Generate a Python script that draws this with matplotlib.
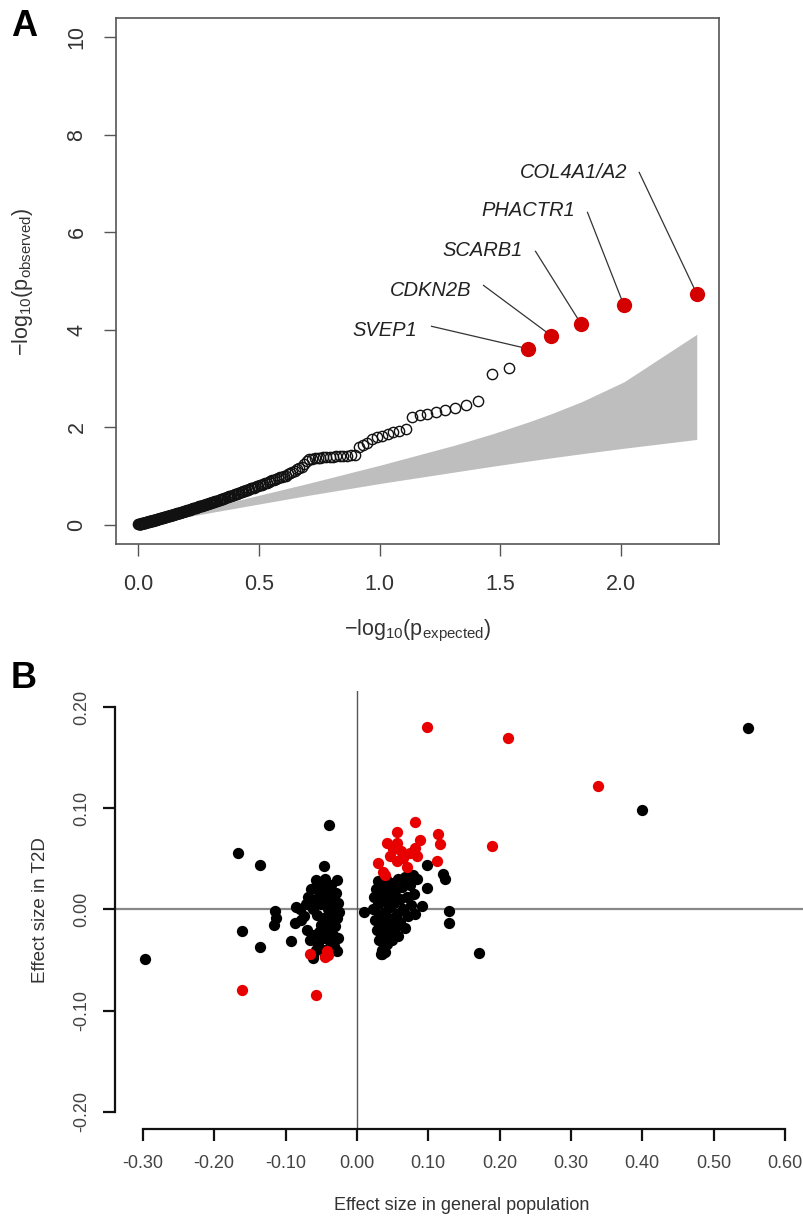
import numpy as np
import matplotlib
matplotlib.use('Agg')
import matplotlib.pyplot as plt

plt.rcParams['font.family'] = ['Liberation Sans', 'DejaVu Sans']
plt.rcParams['mathtext.default'] = 'regular'

# ---------------- Panel A data (QQ plot) ----------------
# observed -log10(p), sorted descending
qq_observed = [4.74, 4.50, 4.11, 3.88, 3.61, 3.22, 3.10, 2.53, 2.46, 2.40,
               2.35, 2.31, 2.27, 2.24, 2.21, 1.97, 1.93, 1.89, 1.86, 1.82,
               1.79, 1.76, 1.68, 1.64, 1.60, 1.43, 1.42, 1.41, 1.41, 1.40,
               1.40, 1.39, 1.39, 1.38, 1.38, 1.37, 1.37, 1.36, 1.35, 1.34,
               1.30, 1.24, 1.19, 1.16, 1.13, 1.10, 1.08, 1.05, 1.03, 1.00,
               0.99, 0.98, 0.97, 0.95, 0.94, 0.92, 0.91, 0.89, 0.88, 0.86,
               0.85, 0.84, 0.82, 0.81, 0.80, 0.79, 0.77, 0.76, 0.75, 0.74,
               0.73, 0.71, 0.70, 0.69, 0.68, 0.67, 0.66, 0.65, 0.64, 0.63,
               0.62, 0.61, 0.60, 0.59, 0.585, 0.58, 0.57, 0.56, 0.55, 0.54,
               0.53, 0.525, 0.52, 0.51, 0.50, 0.49, 0.486, 0.48, 0.47, 0.46,
               0.457, 0.45, 0.44, 0.435, 0.43, 0.42, 0.415, 0.41, 0.40, 0.396,
               0.39, 0.38, 0.376, 0.37, 0.36, 0.358, 0.35, 0.346, 0.34, 0.334,
               0.329, 0.32, 0.318, 0.31, 0.307, 0.30, 0.296, 0.29, 0.286, 0.28,
               0.276, 0.27, 0.265, 0.26, 0.256, 0.25, 0.246, 0.24, 0.236, 0.23,
               0.227, 0.22, 0.218, 0.21, 0.209, 0.20, 0.200, 0.196, 0.19, 0.187,
               0.18, 0.179, 0.175, 0.17, 0.167, 0.16, 0.159, 0.155, 0.151, 0.147,
               0.143, 0.139, 0.135, 0.132, 0.128, 0.124, 0.121, 0.117, 0.113, 0.110,
               0.106, 0.102, 0.099, 0.096, 0.092, 0.089, 0.085, 0.082, 0.079, 0.075,
               0.072, 0.069, 0.065, 0.062, 0.059, 0.056, 0.053, 0.050, 0.047, 0.044,
               0.041, 0.037, 0.034, 0.031, 0.028, 0.025, 0.022, 0.020, 0.017, 0.014,
               0.011, 0.008, 0.006, 0.003]
top_genes = ['COL4A1/A2', 'PHACTR1', 'SCARB1', 'CDKN2B', 'SVEP1']

# 95% confidence band
band_x = [0.0, 0.108, 0.233, 0.409, 0.710, 1.011, 1.312, 1.467, 1.613, 1.710, 1.835, 2.011, 2.312]
band_hi = [0.0, 0.140, 0.286, 0.490, 0.851, 1.23, 1.631, 1.862, 2.101, 2.274, 2.52, 2.93, 3.906]
band_lo = [0.0, 0.077, 0.185, 0.340, 0.603, 0.85, 1.079, 1.196, 1.301, 1.369, 1.453, 1.566, 1.747]

qa_xticks = [0.0, 0.5, 1.0, 1.5, 2.0]
qa_xlabels = ['0.0', '0.5', '1.0', '1.5', '2.0']
qa_yticks = [0, 2, 4, 6, 8, 10]
qa_ylabels = ['0', '2', '4', '6', '8', '10']

# ---------------- Panel B data (effect sizes) ----------------
black_x = [-0.297, -0.167, -0.136, -0.161, -0.136, -0.115, -0.116, -0.114, -0.093, -0.085,
           -0.087, -0.039, -0.046, -0.057, -0.028, -0.062, -0.028, 0.010, 0.035, 0.098,
           0.084, 0.098, 0.120, 0.123, 0.091, 0.129, 0.129, 0.171, 0.400, 0.548,
           # left cluster
           -0.080, -0.078, -0.072, -0.070, -0.068, -0.066, -0.064, -0.062, -0.060, -0.058,
           -0.056, -0.055, -0.054, -0.052, -0.050, -0.050, -0.048, -0.047, -0.046, -0.045,
           -0.044, -0.043, -0.042, -0.041, -0.040, -0.039, -0.038, -0.037, -0.036, -0.035,
           -0.034, -0.033, -0.032, -0.031, -0.030, -0.029, -0.028, -0.027, -0.026, -0.025,
           -0.062, -0.058, -0.074, -0.066, -0.053, -0.045,
           # right cluster
           0.022, 0.024, 0.025, 0.027, 0.028, 0.030, 0.031, 0.032, 0.033, 0.034,
           0.035, 0.036, 0.037, 0.038, 0.039, 0.040, 0.041, 0.042, 0.043, 0.044,
           0.045, 0.046, 0.047, 0.048, 0.049, 0.050, 0.051, 0.052, 0.053, 0.054,
           0.056, 0.057, 0.058, 0.060, 0.061, 0.063, 0.065, 0.067, 0.068, 0.070,
           0.072, 0.074, 0.076, 0.078, 0.080, 0.082, 0.029, 0.034, 0.040]
black_y = [-0.049, 0.056, 0.044, -0.021, -0.037, -0.001, -0.015, -0.008, -0.031, 0.002,
           -0.013, 0.083, 0.043, 0.029, 0.029, -0.048, -0.041, -0.002, -0.044, 0.044,
           0.030, 0.021, 0.035, 0.030, 0.003, -0.001, -0.013, -0.043, 0.098, 0.179,
           0.000, -0.010, 0.005, -0.020, 0.012, -0.030, 0.020, 0.000, -0.025, 0.010,
           -0.005, 0.025, -0.035, 0.015, -0.015, 0.005, -0.028, 0.020, -0.008, 0.030,
           -0.040, 0.010, -0.020, 0.000, 0.018, -0.030, 0.008, -0.012, 0.024, -0.004,
           -0.025, 0.012, -0.036, 0.003, -0.016, 0.016, -0.008, -0.028, 0.006, -0.002,
           -0.045, -0.040, -0.006, 0.004, -0.022, -0.046,
           0.000, 0.012, -0.010, 0.020, -0.020, 0.005, -0.030, 0.015, -0.005, 0.025,
           -0.040, -0.015, 0.008, -0.025, 0.018, -0.002, 0.030, -0.034, 0.010, -0.012,
           0.022, -0.022, 0.002, 0.014, -0.030, 0.026, -0.008, 0.006, -0.018, 0.018,
           -0.004, 0.030, -0.026, 0.010, -0.012, 0.022, 0.000, -0.018, 0.032, 0.012,
           -0.006, 0.024, 0.004, 0.034, 0.015, -0.004, 0.028, -0.044, -0.042]
red_x = [0.098, 0.212, 0.338, 0.189, 0.081, 0.056, 0.114, 0.117, 0.042, 0.056,
         0.088, 0.081, 0.074, 0.065, 0.056, 0.046, 0.084, 0.029, 0.112, 0.070,
         0.037, 0.039, 0.062, 0.050, -0.066, -0.042, -0.041, -0.044, -0.161, -0.058]
red_y = [0.180, 0.169, 0.122, 0.063, 0.086, 0.077, 0.075, 0.065, 0.066, 0.066,
         0.069, 0.061, 0.056, 0.051, 0.048, 0.053, 0.053, 0.046, 0.048, 0.042,
         0.037, 0.034, 0.058, 0.060, -0.044, -0.041, -0.045, -0.047, -0.080, -0.084]

qb_xticks = [-0.30, -0.20, -0.10, 0.00, 0.10, 0.20, 0.30, 0.40, 0.50, 0.60]
qb_yticks = [-0.20, -0.10, 0.00, 0.10, 0.20]

# ---------------- Figure ----------------
W, H = 804, 1218
fig = plt.figure(figsize=(W / 100, H / 100), dpi=100)


def fx(px):
    return px / W


def fy(py):
    return 1 - py / H


RED_A = '#d40000'
RED_B = '#e80000'
TXT = '#333333'

# ---- Panel A ----
axA = fig.add_axes([fx(116), fy(544), fx(719 - 116), (544 - 18) / H])
n = len(qq_observed)
expected = -np.log10(np.arange(1, n + 1) / (n + 1))
obs = np.array(qq_observed)
ntop = len(top_genes)

axA.fill_between(band_x, band_lo, band_hi, color='#bebebe', lw=0, zorder=1)
axA.plot(expected[ntop:], obs[ntop:], 'o', mfc='none', mec='#111111', ms=7.4, mew=1.0, zorder=3)

label_pos = [(2.025, 7.23), (1.81, 6.45), (1.591, 5.63), (1.380, 4.80), (1.157, 3.98)]
line_start = [(2.074, 7.23), (1.86, 6.41), (1.645, 5.61), (1.43, 4.91), (1.215, 4.07)]
for k, g in enumerate(top_genes):
    tx, ty = label_pos[k]
    axA.text(tx, ty, g, ha='right', va='center', fontsize=14.5, fontstyle='italic', color='#222222')
    sx, sy = line_start[k]
    axA.plot([sx, expected[k]], [sy, obs[k]], color='#333333', lw=0.9, zorder=2)
axA.plot(expected[:ntop], obs[:ntop], 'o', color=RED_A, ms=11, mew=0, zorder=4)

axA.set_xlim(-0.090, 2.404)
axA.set_ylim(-0.4, 10.4)
for s in axA.spines.values():
    s.set_color('#555555')
    s.set_linewidth(1.2)
axA.set_xticks(qa_xticks)
axA.set_xticklabels(qa_xlabels)
axA.set_yticks(qa_yticks)
axA.set_yticklabels(qa_ylabels, rotation=90, va='center')
axA.tick_params(axis='both', direction='out', length=8.5, width=1.0, color='#555555',
                labelsize=15.5, labelcolor=TXT)
axA.tick_params(axis='x', pad=13)
axA.tick_params(axis='y', pad=12)

fig.text(fx(23), fy(282), r'$-$log$_{10}$(p$_{observed}$)', rotation=90, ha='center', va='center',
         fontsize=15.5, color=TXT)
fig.text(fx(418), fy(631), r'$-$log$_{10}$(p$_{expected}$)', ha='center', va='center',
         fontsize=15.5, color=TXT)
fig.text(fx(11), fy(36), 'A', fontsize=26, fontweight='bold', ha='left', va='baseline')

# ---- Panel B ----
axB = fig.add_axes([fx(115), fy(1129), fx(804 - 115), (1129 - 691) / H])
axB.axhline(0, color='#888888', lw=1.6, zorder=1)
axB.axvline(0, color='#555555', lw=1.0, zorder=1)
axB.scatter(black_x, black_y, s=66, color='black', lw=0, zorder=3)
axB.scatter(red_x, red_y, s=66, color=RED_B, lw=0, zorder=4)

axB.set_xlim(-0.339, 0.6266)
axB.set_ylim(-0.2168, 0.2158)
axB.spines['top'].set_visible(False)
axB.spines['right'].set_visible(False)
axB.spines['left'].set_bounds(-0.2, 0.2)
axB.spines['bottom'].set_bounds(-0.3, 0.6)
for side in ('left', 'bottom'):
    axB.spines[side].set_linewidth(1.6)
    axB.spines[side].set_color('#111111')
axB.set_xticks(qb_xticks)
axB.set_xticklabels([f'{v:.2f}' for v in qb_xticks])
axB.set_yticks(qb_yticks)
axB.set_yticklabels([f'{v:.2f}' for v in qb_yticks], rotation=90, va='center')
axB.tick_params(axis='both', direction='out', length=8.5, width=1.6, color='#111111',
                labelsize=13, labelcolor='#444444')
axB.tick_params(axis='x', pad=10)
axB.tick_params(axis='y', pad=9)

fig.text(fx(41), fy(910), 'Effect size in T2D', rotation=90, ha='center', va='center',
         fontsize=13.5, color=TXT)
fig.text(fx(462), fy(1205), 'Effect size in general population', ha='center', va='center',
         fontsize=13, color=TXT)
fig.text(fx(11), fy(688), 'B', fontsize=26, fontweight='bold', ha='left', va='baseline')

fig.savefig('out.png', dpi=100)
